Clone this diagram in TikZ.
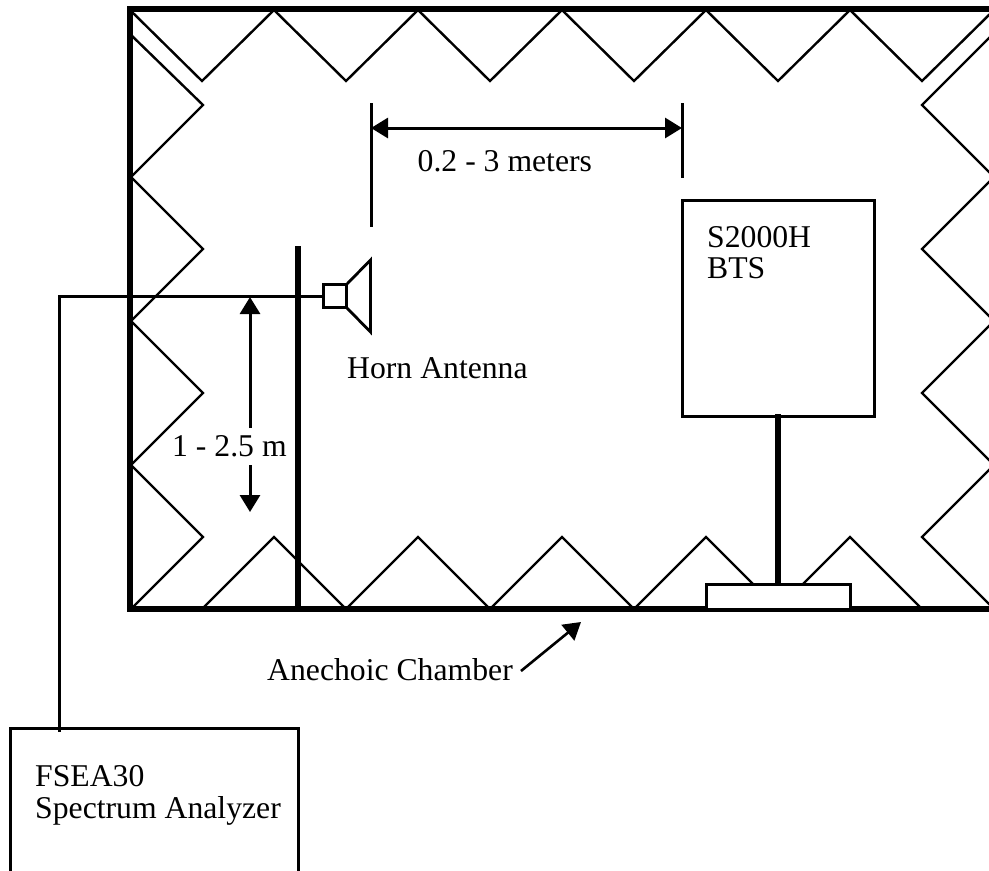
\documentclass[tikz,border=0pt]{standalone}
\usepackage{fontspec}
\setmainfont{Liberation Serif}
\usetikzlibrary{arrows.meta}
\tikzset{
  wedge/.style={line width=2.4pt,line join=miter},
  wall/.style={line width=6pt,line join=miter},
  post/.style={line width=5.6pt},
  outline/.style={line width=3pt,line join=miter},
  dimline/.style={line width=3pt},
  arrowtip/.style={-{Triangle[length=17pt,width=20pt]}},
  label/.style={anchor=base west,inner sep=0pt,font=\fontsize{31.7}{31.7}\selectfont,text=black},
  boxnode/.style={draw,outline,fill=white,inner sep=0pt,outer sep=0pt,anchor=north west}
}
\begin{document}
\begin{tikzpicture}[x=1pt,y=-1pt]
\useasboundingbox (0,0) rectangle (989,871);
\clip (0,0) rectangle (989,871);
\fill[white] (0,0) rectangle (989,871);
% absorber wedges
\draw[wedge] (130,10) -- (202,81) -- (274,10) -- (346,81) -- (418,10) -- (490,81) -- (562,10) -- (634,81) -- (706,10) -- (778,81) -- (850,10) -- (922,81) -- (994,10);
\draw[wedge] (130,34) -- (203,105) -- (131,177) -- (203,249) -- (131,321) -- (203,393) -- (131,465) -- (203,537) -- (131,609);
\draw[wedge] (994,33) -- (922,105) -- (994,177) -- (922,249) -- (994,321) -- (922,393) -- (994,465) -- (922,537) -- (994,609);
\draw[wedge] (202,609) -- (274,537) -- (346,609) -- (418,537) -- (490,609) -- (562,537) -- (634,609) -- (706,537) -- (778,609) -- (850,537) -- (922,609);
% chamber walls
\draw[wall] (995,9) -- (130,9) -- (130,609) -- (995,609);
% mast
\coordinate (mastTop) at (298,246);
\coordinate (mastBase) at (298,609);
\draw[post] (mastTop) -- (mastBase);
% BTS
\node[boxnode,minimum width=192.5pt,minimum height=216pt] (bts) at (682,200) {};
\node[boxnode,minimum width=144.7pt,minimum height=25pt] (platform) at (706,584) {};
\coordinate (standTop) at (778,414);
\draw[post] (standTop) -- (standTop |- platform.north);
% horn antenna
\node[boxnode,minimum size=23pt] (feed) at (323.5,284.5) {};
\draw[line width=2.8pt,line join=miter] (feed.north east) -- (370.5,260) -- (370.5,332) -- (feed.south east);
% analyzer
\node[boxnode,minimum width=288pt,minimum height=180pt] (fsea) at (10.5,728) {};
% cable
\coordinate (bend) at (59,296);
\draw[dimline,line join=miter] (feed.west) -- (bend) -- (59,732);
% dimension lines
\coordinate (tickAa) at (371,103); \coordinate (tickAb) at (371,227);
\coordinate (tickBa) at (682,103); \coordinate (tickBb) at (682,178);
\draw[dimline] (tickAa) -- (tickAb);
\draw[dimline] (tickBa) -- (tickBb);
\coordinate (dimL) at (371,128); \coordinate (dimR) at (682,128);
\draw[dimline,{Triangle[length=17pt,width=20pt]}-{Triangle[length=17pt,width=20pt]}] (dimL) -- (dimR);
\coordinate (upTip) at (250,297); \coordinate (upEnd) at (250,428);
\coordinate (dnTip) at (250,512); \coordinate (dnEnd) at (250,465);
\draw[dimline,arrowtip] (upEnd) -- (upTip);
\draw[dimline,arrowtip] (dnEnd) -- (dnTip);
% labels
\node[label] (lDist) at (417.5,171) {0.2 - 3 meters};
\node[label] (lBts1) at (707,247) {S2000H};
\node[label] (lBts2) at (707,278) {BTS};
\node[label] (lHorn) at (347,378) {Horn Antenna};
\node[label] (lH) at (172,456) {1 - 2.5 m};
\node[label] (lCh) at (267,680) {Anechoic Chamber};
\node[label] (lF1) at (35,786) {FSEA30};
\node[label] (lF2) at (35,818) {Spectrum Analyzer};
\coordinate (chStart) at (521,671);
\coordinate (chTip) at (581,622);
\draw[line width=2.6pt,arrowtip] (chStart) -- (chTip);
\end{tikzpicture}
\end{document}
